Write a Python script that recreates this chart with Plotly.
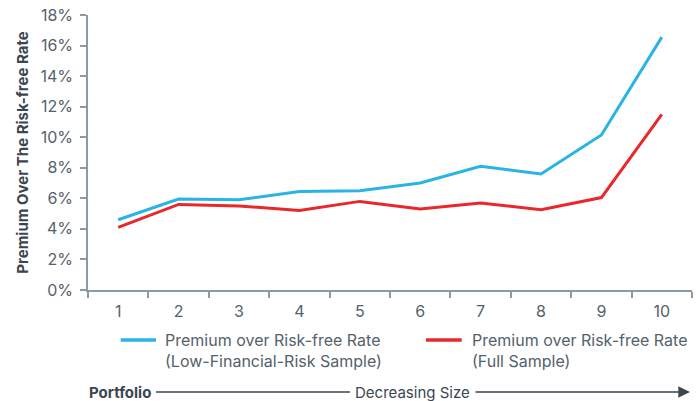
import plotly.graph_objects as go

# Size portfolios (1 = largest, 10 = smallest)
portfolios = ["1", "2", "3", "4", "5", "6", "7", "8", "9", "10"]

# Premium over the risk-free rate, in percent
low_risk_premium = [4.6, 5.95, 5.9, 6.45, 6.5, 7.0, 8.1, 7.6, 10.15, 16.55]
full_sample_premium = [4.1, 5.6, 5.5, 5.2, 5.8, 5.3, 5.7, 5.25, 6.05, 11.5]

series_names = [
    "Premium over Risk-free Rate<br>(Low-Financial-Risk Sample)",
    "Premium over Risk-free Rate<br>(Full Sample)",
]

BLUE = "#2AB4E6"
RED = "#E8282B"
AXIS = "#8C9AA4"
TEXT = "#55616B"
DARK = "#3A4650"
FONT = "Inter, Liberation Sans, Arial, sans-serif"

# plot area in pixels, used to place the hand-drawn legend and footer
L, R, T, B = 88, 5, 15, 111
W, H = 697, 401
PW, PH = W - L - R, H - T - B


def px_x(p):
    return (p - L) / PW


def px_y(p):
    return (H - B - p) / PH


colors = [BLUE, RED]

fig = go.Figure()
for vals, name, col in zip([low_risk_premium, full_sample_premium], series_names, colors):
    fig.add_trace(go.Scatter(
        x=portfolios, y=vals, mode="lines", name=name,
        line=dict(color=col, width=3), showlegend=False,
    ))

fig.update_layout(
    width=W, height=H,
    margin=dict(l=L, r=R, t=T, b=B),
    paper_bgcolor="white", plot_bgcolor="white",
    font=dict(family=FONT, size=16, color=TEXT),
    xaxis=dict(
        type="category", range=[-0.5, 9.5], tickson="boundaries",
        ticks="outside", ticklen=6, tickcolor=AXIS, tickwidth=1.5,
        showline=True, linecolor=AXIS, linewidth=1.5, showgrid=False,
        zeroline=False, tickfont=dict(size=16, color=TEXT),
        ticklabelstandoff=6,
    ),
    yaxis=dict(
        range=[0, 18], dtick=2, ticksuffix="%",
        ticks="outside", ticklen=6, tickcolor=AXIS, tickwidth=1.5,
        showline=True, linecolor=AXIS, linewidth=1.5, showgrid=False,
        zeroline=False, tickfont=dict(size=16, color=TEXT),
        ticklabelstandoff=4,
        title=dict(text="<b>Premium Over The Risk-free Rate</b>",
                   font=dict(size=15, color=DARK), standoff=8),
    ),
    showlegend=False,
)

# Legend: line sample + two-line label for each series
legend_samples = [(120.7, 156.0), (426.0, 461.7)]
legend_text_x = [163.0, 470.0]
for (s0, s1), tx, name, col in zip(legend_samples, legend_text_x, series_names, colors):
    fig.add_shape(
        type="line", xref="paper", yref="paper",
        x0=px_x(s0), x1=px_x(s1), y0=px_y(340), y1=px_y(340),
        line=dict(color=col, width=3.5),
    )
    fig.add_annotation(
        xref="paper", yref="paper", x=px_x(tx), y=px_y(350.5),
        xanchor="left", yanchor="middle", align="left", showarrow=False,
        text=name, font=dict(size=16, color=TEXT),
    )

# Footer: Portfolio ---- Decreasing Size ---->
FOOT_Y = px_y(392)
fig.add_annotation(
    xref="paper", yref="paper", x=px_x(87), y=FOOT_Y, xanchor="left", yanchor="middle",
    text="<b>Portfolio</b>", showarrow=False, font=dict(size=15, color=DARK),
)
fig.add_annotation(
    xref="paper", yref="paper", x=px_x(412.5), y=FOOT_Y, xanchor="center", yanchor="middle",
    text="Decreasing Size", showarrow=False, font=dict(size=15, color=DARK),
)
fig.add_shape(
    type="line", xref="paper", yref="paper",
    x0=px_x(156), x1=px_x(350), y0=FOOT_Y, y1=FOOT_Y,
    line=dict(color=DARK, width=1.3),
)
fig.add_annotation(
    xref="paper", yref="paper", x=px_x(690), y=FOOT_Y, ax=-216, ay=0,
    axref="pixel", ayref="pixel", text="", showarrow=True,
    arrowhead=2, arrowsize=1.8, arrowwidth=1.3, arrowcolor=DARK,
)

fig.write_html("out.html")
